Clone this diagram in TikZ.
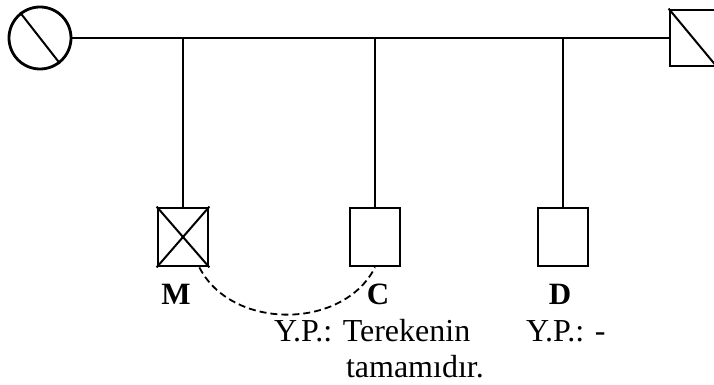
\documentclass[tikz,border=0pt]{standalone}
\usepackage{fontspec}
\setmainfont{Liberation Serif}
\usetikzlibrary{positioning,calc}
\tikzset{
    every picture/.style={
        line width=2pt
    },
    % Style for the children boxes
    person/.style={
        draw,
        line width=2.8pt,
        minimum width=50pt,
        minimum height=58pt,
        inner sep=0pt
    },
    % Style for the two parents
    parent/.style={
        draw,
        line width=2.8pt,
        inner sep=0pt
    },
    % Names under the boxes
    name label/.style={
        font=\fontsize{31}{36}\selectfont\bfseries,
        anchor=base
    },
    % Notes under the names
    note label/.style={
        font=\fontsize{32}{36}\selectfont,
        anchor=base west,
        inner sep=0pt
    },
    % Dashed tie between two children
    tie line/.style={
        dash pattern=on 7pt off 4pt,
        line width=1.8pt
    }
}

\begin{document}
\begin{tikzpicture}[x=1pt,y=1pt]

% Set the canvas size
\path[use as bounding box] (0,0) rectangle (714,385);
\clip (0,0) rectangle (714,385);

% Parents and the sibling line
\node[parent, circle, minimum size=62pt] (mother) at (40,347) {};
\draw (mother.128) -- (mother.-52);
\node[parent, minimum width=46pt, minimum height=56pt] (father) at (693,347) {};
\draw (father.north west) -- (father.south east);
\draw (mother.east) -- (father.west);

% Children
\node[person] (m) at (183,148) {};
\node[person] (c) at (375,148) {};
\node[person] (d) at (563,148) {};
\draw (m.north west) -- (m.south east);
\draw (m.north east) -- (m.south west);
\foreach \k in {m,c,d}
    \draw (\k.north) -- (\k.north |- mother.east);

% Tie between M and C
\draw[tie line] ([xshift=-10pt]m.south east) .. controls +(32,-63) and +(-32,-63) .. (c.south);

% Names
\node[name label] (m-name) at (176,80) {M};
\node[name label] (c-name) at (378,80) {C};
\node[name label] (d-name) at (560,80) {D};

% Notes
\node[note label] (c-note) at (273,43) {Y.P.: Terekenin};
\node[note label] (c-note2) at (345,7) {tamamıdır.};
\node[note label] (d-note) at (525,43) {Y.P.: -};

\end{tikzpicture}
\end{document}
